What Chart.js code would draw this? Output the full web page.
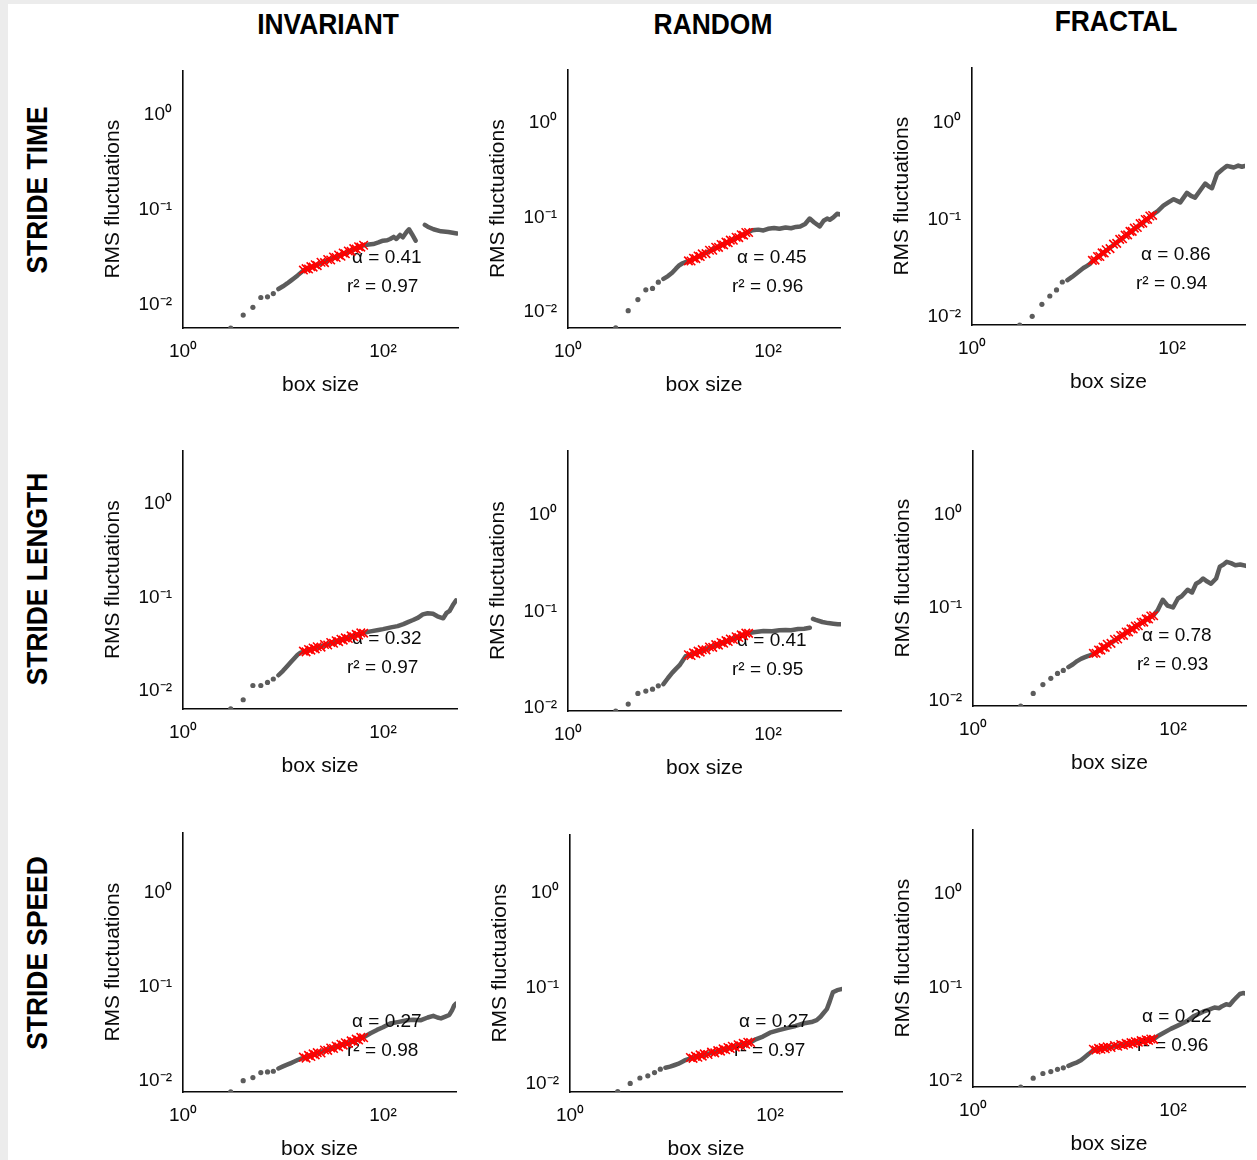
<!DOCTYPE html>
<html>
<head>
<meta charset="utf-8">
<script src="https://cdn.jsdelivr.net/npm/chart.js@4.4.1/dist/chart.umd.min.js"></script>
<style>
  html, body { margin: 0; padding: 0; background: #fff; }
  body { width: 1257px; height: 1160px; position: relative; overflow: hidden; }
  .band { position: absolute; background: #ececec; }
  .head, .side {
    position: absolute; font: bold 29px "Liberation Sans", Arial, sans-serif;
    color: #000; white-space: nowrap;
  }
  .head { transform: translate(-50%, -50%) scaleX(0.91); }
  .side { transform: translate(-50%, -50%) rotate(-90deg) scaleX(0.91); }
  .panel { position: absolute; }
</style>
</head>
<body>
<div class="band" style="left:0;top:0;width:1257px;height:4px"></div>
<div class="band" style="left:0;top:0;width:8px;height:1160px"></div>
<script>
// column / row titles
const columns = ['INVARIANT', 'RANDOM', 'FRACTAL'];
const rows = ['STRIDE TIME', 'STRIDE LENGTH', 'STRIDE SPEED'];

// box sizes shared by all panels
const smallBoxes = [3, 4, 5, 6, 7, 8];
const fitBoxes = [16, 17, 18, 19, 20, 21, 22, 24, 26, 28, 30, 32, 34, 36, 38, 40, 42, 45, 48, 51, 54, 57, 60, 64];

// tick labels
const xTickVals = [1, 100];
const xTickText = ['10⁰', '10²'];
const yTickVals = [0.01, 0.1, 1];
const yTickText = ['10⁻²', '10⁻¹', '10⁰'];

// fit results printed in every panel
const alphaText = ['0.41', '0.45', '0.86', '0.32', '0.41', '0.78', '0.27', '0.27', '0.22'];
const r2Text = ['0.97', '0.96', '0.94', '0.97', '0.95', '0.93', '0.98', '0.97', '0.96'];

// STRIDE TIME
const timeInvDots = [0.0056, 0.0077, 0.0093, 0.0118, 0.0120, 0.0130];
const timeInvTrace = [[9,0.0145],[10,0.0155],[11,0.0166],[12,0.0178],[13,0.019],[14,0.0202],[15,0.0215],[16,0.0228],[20,0.0251],[25,0.0277],[30,0.0301],[40,0.0341],[50,0.0375],[64,0.042],[72,0.0428],[80,0.0433],[90,0.045],[100,0.047],[110,0.0475],[118,0.049],[128,0.0515],[136,0.049],[148,0.054],[158,0.051],[172,0.058],[182,0.062],[195,0.055],[212,0.047],[230,null],[262,0.069],[280,0.066],[320,0.062],[380,0.059],[450,0.058],[550,0.056]];
const timeInvFit = [0.0230,0.0238,0.0236,0.0250,0.0247,0.0262,0.0256,0.0278,0.0276,0.0297,0.0294,0.0316,0.0312,0.0332,0.0322,0.0348,0.0342,0.0366,0.0362,0.0388,0.0384,0.0406,0.0402,0.0420];

const timeRandDots = [0.0067, 0.0102, 0.0134, 0.0170, 0.0176, 0.0205];
const timeRandTrace = [[9,0.0222],[10,0.0238],[11,0.0258],[12,0.0285],[13,0.031],[14,0.0325],[15,0.0335],[16,0.034],[20,0.0381],[30,0.0472],[40,0.0548],[50,0.0615],[64,0.07],[70,0.073],[80,0.074],[90,0.0725],[100,0.0755],[115,0.077],[130,0.0755],[150,0.078],[170,0.0765],[190,0.079],[210,0.08],[235,0.085],[261,0.097],[290,0.088],[329,0.08],[360,0.092],[390,0.097],[414,0.094],[450,0.1],[490,0.109],[537,0.107]];
const timeRandFit = [0.0345,0.0344,0.0368,0.0364,0.0389,0.0384,0.0409,0.0412,0.0447,0.0447,0.0481,0.0479,0.0514,0.0509,0.0545,0.0537,0.0573,0.0571,0.0614,0.0609,0.0653,0.0646,0.0690,0.0690];

const timeFracDots = [0.0081, 0.0100, 0.0133, 0.0162, 0.0187, 0.0226];
const timeFracTrace = [[9,0.0236],[10,0.0255],[11,0.0275],[12,0.0295],[13,0.0315],[14,0.033],[15,0.0345],[16,0.037],[20,0.0442],[30,0.061],[40,0.0767],[50,0.091],[64,0.112],[72,0.122],[82,0.139],[92,0.15],[104,0.162],[121,0.15],[141,0.188],[155,0.175],[170,0.168],[192,0.2],[215,0.235],[232,0.22],[251,0.21],[282,0.295],[320,0.33],[355,0.357],[385,0.35],[414,0.344],[460,0.36],[500,0.35],[537,0.357]];
const timeFracFit = [0.0378,0.0380,0.0414,0.0414,0.0451,0.0450,0.0487,0.0500,0.0556,0.0566,0.0622,0.0631,0.0689,0.0692,0.0752,0.0752,0.0814,0.0825,0.0906,0.0915,0.0998,0.1002,0.1085,0.1100];

// STRIDE LENGTH
const lenInvDots = [0.0065, 0.0081, 0.0115, 0.0115, 0.0124, 0.0135];
const lenInvTrace = [[9,0.0148],[10,0.0165],[11,0.0185],[12,0.0205],[13,0.0225],[14,0.0245],[15,0.0258],[16,0.0263],[20,0.0283],[30,0.0325],[40,0.0358],[50,0.0386],[64,0.042],[75,0.0435],[90,0.045],[100,0.046],[120,0.048],[140,0.0495],[160,0.052],[180,0.055],[200,0.0575],[225,0.061],[250,0.066],[280,0.068],[316,0.067],[350,0.063],[400,0.06],[430,0.068],[464,0.072],[500,0.083],[537,0.093]];
const lenInvFit = [0.0268,0.0263,0.0279,0.0274,0.0289,0.0283,0.0298,0.0295,0.0315,0.0311,0.0331,0.0325,0.0346,0.0338,0.0359,0.0351,0.0371,0.0365,0.0389,0.0381,0.0404,0.0396,0.0419,0.0416];

const lenRandDots = [0.0093, 0.0110, 0.0142, 0.0150, 0.0157, 0.0170];
const lenRandTrace = [[9,0.0177],[10,0.0205],[11,0.0232],[12,0.0255],[13,0.0277],[14,0.031],[15,0.0345],[16,0.035],[20,0.0381],[30,0.0446],[40,0.05],[50,0.0545],[64,0.06],[75,0.0615],[90,0.063],[110,0.0625],[130,0.064],[150,0.0645],[170,0.064],[200,0.066],[230,0.0665],[262,0.068],[272,null],[282,0.084],[300,0.082],[350,0.078],[400,0.076],[450,0.075],[500,0.074],[537,0.074]];
const lenRandFit = [0.0357,0.0351,0.0373,0.0367,0.0389,0.0380,0.0404,0.0401,0.0430,0.0426,0.0455,0.0449,0.0478,0.0470,0.0500,0.0490,0.0520,0.0514,0.0548,0.0539,0.0573,0.0563,0.0598,0.0594];

const lenFracDots = [0.0087, 0.0119, 0.0148, 0.0173, 0.0195, 0.0210];
const lenFracTrace = [[9,0.0228],[10,0.0245],[11,0.0265],[12,0.028],[13,0.029],[14,0.03],[15,0.0308],[16,0.0315],[20,0.0368],[30,0.049],[40,0.0598],[50,0.07],[64,0.083],[70,0.093],[79,0.121],[88,0.105],[100,0.1],[112,0.125],[122,0.132],[140,0.155],[155,0.145],[170,0.18],[185,0.19],[200,0.205],[220,0.19],[240,0.18],[270,0.205],[294,0.275],[320,0.29],[345,0.31],[380,0.3],[420,0.285],[470,0.29],[537,0.28]];
const lenFracFit = [0.0321,0.0322,0.0349,0.0348,0.0375,0.0372,0.0402,0.0411,0.0452,0.0458,0.0500,0.0501,0.0545,0.0545,0.0589,0.0586,0.0630,0.0636,0.0693,0.0695,0.0753,0.0752,0.0810,0.0815];

// STRIDE SPEED
const speedInvDots = [0.0076, 0.0100, 0.0108, 0.0122, 0.0124, 0.0126];
const speedInvTrace = [[9,0.0135],[10,0.0142],[11,0.0148],[12,0.0154],[13,0.016],[14,0.0166],[15,0.0171],[16,0.0174],[20,0.0189],[30,0.0219],[40,0.0244],[50,0.0264],[64,0.029],[75,0.032],[87,0.0347],[100,0.037],[118,0.0406],[140,0.042],[174,0.044],[200,0.0445],[240,0.044],[280,0.047],[318,0.049],[350,0.047],[380,0.046],[420,0.048],[460,0.05],[490,0.056],[515,0.063],[537,0.066]];
const speedInvFit = [0.0178,0.0174,0.0186,0.0181,0.0193,0.0188,0.0199,0.0197,0.0212,0.0210,0.0223,0.0220,0.0234,0.0229,0.0244,0.0239,0.0253,0.0249,0.0265,0.0261,0.0277,0.0271,0.0289,0.0286];

const speedRandDots = [0.0082, 0.0100, 0.0114, 0.0120, 0.0130, 0.0141];
const speedRandTrace = [[9,0.0146],[10,0.015],[11,0.0155],[12,0.016],[13,0.0167],[14,0.0174],[15,0.0179],[16,0.0183],[20,0.0195],[30,0.0217],[40,0.0236],[50,0.0251],[64,0.027],[72,0.029],[85,0.031],[100,0.034],[120,0.036],[147,0.038],[180,0.04],[220,0.0427],[260,0.044],[293,0.046],[320,0.05],[345,0.055],[370,0.06],[395,0.072],[425,0.09],[470,0.095],[537,0.098]];
const speedRandFit = [0.0187,0.0183,0.0193,0.0188,0.0199,0.0193,0.0204,0.0201,0.0213,0.0209,0.0221,0.0218,0.0230,0.0225,0.0238,0.0232,0.0245,0.0240,0.0254,0.0248,0.0263,0.0257,0.0270,0.0268];

const speedFracDots = [0.0086, 0.0107, 0.0120, 0.0126, 0.0133, 0.0138];
const speedFracTrace = [[9,0.0145],[10,0.0152],[11,0.0158],[12,0.0166],[13,0.0178],[14,0.019],[15,0.0202],[16,0.0214],[20,0.0223],[30,0.0241],[40,0.0256],[50,0.0268],[64,0.028],[70,0.03],[80,0.0325],[95,0.036],[117,0.04],[140,0.044],[160,0.049],[180,0.052],[200,0.055],[230,0.058],[260,0.061],[290,0.06],[310,0.063],[340,0.066],[370,0.065],[400,0.072],[430,0.078],[466,0.085],[500,0.087],[537,0.086]];
const speedFracFit = [0.0218,0.0214,0.0223,0.0218,0.0227,0.0221,0.0231,0.0228,0.0239,0.0235,0.0245,0.0241,0.0252,0.0247,0.0257,0.0252,0.0263,0.0259,0.0270,0.0265,0.0276,0.0271,0.0281,0.0278];

const panelData = [
  [timeInvDots, timeInvTrace, timeInvFit], [timeRandDots, timeRandTrace, timeRandFit], [timeFracDots, timeFracTrace, timeFracFit],
  [lenInvDots, lenInvTrace, lenInvFit], [lenRandDots, lenRandTrace, lenRandFit], [lenFracDots, lenFracTrace, lenFracFit],
  [speedInvDots, speedInvTrace, speedInvFit], [speedRandDots, speedRandTrace, speedRandFit], [speedFracDots, speedFracTrace, speedFracFit]
];

// plot areas on the page (px) and axis extents (log10)
const frames = [
  {l:183, t:58,  r:458,  b:328,  x1:2.75, y0:-2.25,  y1:0.47},
  {l:568, t:57,  r:840,  b:328,  x1:2.72, y0:-2.175, y1:0.57},
  {l:972, t:55,  r:1245, b:325,  x1:2.73, y0:-2.09,  y1:0.57},
  {l:183, t:438, r:457,  b:709,  x1:2.74, y0:-2.19,  y1:0.57},
  {l:568, t:438, r:841,  b:711,  x1:2.73, y0:-2.03,  y1:0.67},
  {l:973, t:438, r:1246, b:706,  x1:2.73, y0:-2.06,  y1:0.69},
  {l:183, t:820, r:456,  b:1092, x1:2.73, y0:-2.12,  y1:0.64},
  {l:570, t:822, r:842,  b:1092, x1:2.72, y0:-2.09,  y1:0.61},
  {l:973, t:817, r:1245, b:1087, x1:2.72, y0:-2.065, y1:0.69}
];

const headPos = [[328, 24], [713, 24], [1116, 21]];
const sidePos = [[37, 190], [37, 579], [37, 953]];

const FONT = '"Liberation Sans", Arial, sans-serif';
const INK = '#0a0a0a';
const GREY = '#5c5c5c';

columns.forEach((txt, i) => {
  const d = document.createElement('div');
  d.className = 'head';
  d.textContent = txt;
  d.style.left = headPos[i][0] + 'px';
  d.style.top = headPos[i][1] + 'px';
  document.body.appendChild(d);
});
rows.forEach((txt, i) => {
  const d = document.createElement('div');
  d.className = 'side';
  d.textContent = txt;
  d.style.left = sidePos[i][0] + 'px';
  d.style.top = sidePos[i][1] + 'px';
  document.body.appendChild(d);
});

// alpha / r^2 text, drawn just before the red fit marks
const fitLabel = {
  id: 'fitLabel',
  beforeDatasetDraw(chart, args, opts) {
    if (args.index !== 0) return;
    const {ctx, chartArea} = chart;
    ctx.save();
    ctx.font = '19px ' + FONT;
    ctx.fillStyle = INK;
    ctx.textBaseline = 'middle';
    ctx.textAlign = 'left';
    ctx.fillText('α = ' + alphaText[opts.panel], chartArea.left + 169, chartArea.bottom - 70);
    ctx.fillText('r² = ' + r2Text[opts.panel], chartArea.left + 164, chartArea.bottom - 41);
    ctx.restore();
  }
};

frames.forEach((f, i) => {
  const [dots, trace, fit] = panelData[i];
  const w = f.r - f.l + 100;
  const h = f.b - f.t + 85;
  const box = document.createElement('div');
  box.className = 'panel';
  box.style.left = (f.l - 90) + 'px';
  box.style.top = (f.t - 10) + 'px';
  const cv = document.createElement('canvas');
  cv.width = w;
  cv.height = h;
  box.appendChild(cv);
  document.body.appendChild(box);

  new Chart(cv, {
    type: 'scatter',
    data: {
      datasets: [
        {//fit range, red crosses
          data: fit.map((y, k) => ({x: fitBoxes[k], y})),
          pointStyle: 'crossRot', pointRadius: 6,
          borderColor: '#ff0000', backgroundColor: '#ff0000', pointBorderWidth: 1.6
        },
        {//dense part of the curve
          data: trace.map(([x, y]) => ({x, y})),
          showLine: true, spanGaps: false, pointRadius: 0,
          borderColor: GREY, borderWidth: 4.5,
          borderJoinStyle: 'round', borderCapStyle: 'round'
        },
        {//small box sizes
          data: dots.map((y, k) => ({x: smallBoxes[k], y})),
          pointRadius: 2.6, backgroundColor: GREY, borderWidth: 0
        }
      ]
    },
    options: {
      responsive: false,
      animation: false,
      devicePixelRatio: 1,
      layout: { padding: {left: 0, top: 10, right: 10, bottom: 0} },
      plugins: {
        legend: { display: false },
        tooltip: { enabled: false },
        fitLabel: { panel: i }
      },
      scales: {
        x: {
          type: 'logarithmic',
          min: 1, max: Math.pow(10, f.x1),
          afterBuildTicks: s => { s.ticks = xTickVals.map(v => ({value: v})); },
          afterFit: s => { s.height = 75; },
          ticks: {
            callback: v => xTickText[xTickVals.indexOf(v)],
            font: {size: 19, family: FONT}, color: INK,
            padding: 12, maxRotation: 0, minRotation: 0, autoSkip: false
          },
          grid: { display: false, drawTicks: false },
          border: { display: true, color: INK, width: 1.6 },
          title: {
            display: true, text: 'box size',
            font: {size: 21, family: FONT}, color: INK,
            padding: {top: 0, bottom: 5}
          }
        },
        y: {
          type: 'logarithmic',
          min: Math.pow(10, f.y0), max: Math.pow(10, f.y1),
          afterBuildTicks: s => { s.ticks = yTickVals.map(v => ({value: v})); },
          afterFit: s => { s.width = 90; },
          ticks: {
            callback: v => yTickText[yTickVals.indexOf(v)],
            font: {size: 19, family: FONT}, color: INK,
            padding: 11, autoSkip: false
          },
          grid: { display: false, drawTicks: false },
          border: { display: true, color: INK, width: 1.6 },
          title: {
            display: true, text: 'RMS fluctuations',
            font: {size: 21, family: FONT}, color: INK,
            padding: {top: 8, bottom: 0}
          }
        }
      }
    },
    plugins: [fitLabel]
  });
});
</script>
</body>
</html>
